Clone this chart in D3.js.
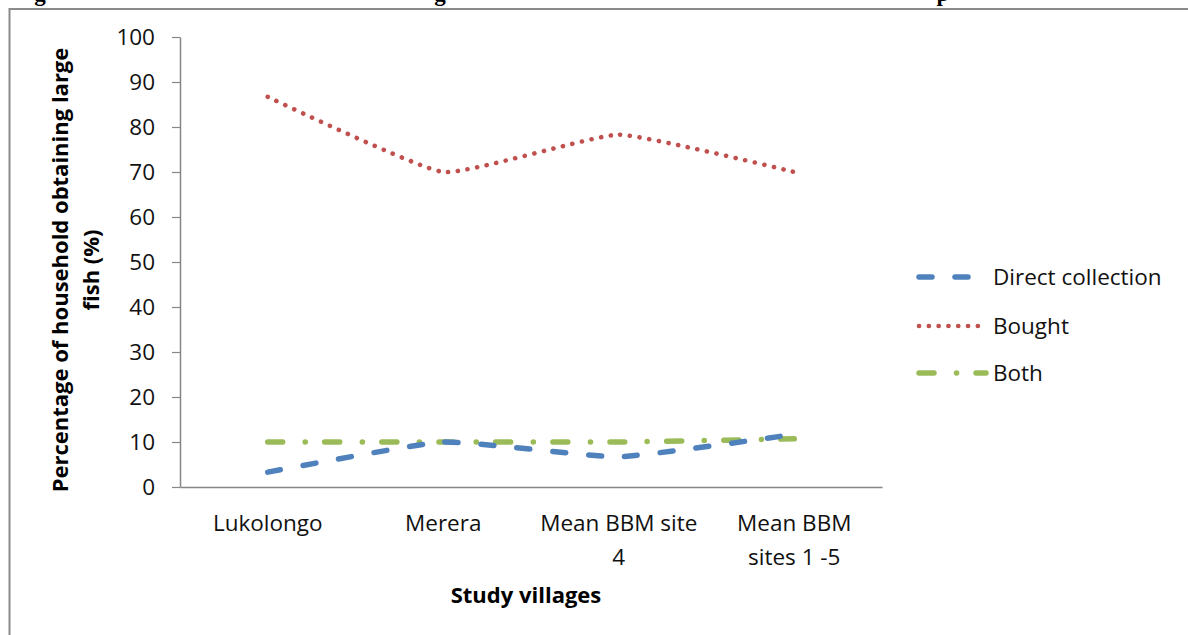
<!DOCTYPE html>
<html>
<head>
<meta charset="utf-8">
<script src="https://cdn.jsdelivr.net/npm/d3@7"></script>
<style>
  html, body { margin: 0; padding: 0; background: #fff; }
  svg { display: block; }
  text { font-family: "Open Sans", Lato, sans-serif; }
</style>
</head>
<body>
<svg id="chart" width="1188" height="635"></svg>
<script>
// Study sites on the category axis
const categories = ["Lukolongo", "Merera", "Mean BBM site 4", "Mean BBM sites 1 -5"];
// Category labels as they are broken over lines under the axis
const categoryLabelLines = [["Lukolongo"], ["Merera"], ["Mean BBM site", "4"], ["Mean BBM", "sites 1 -5"]];

// Percentage of households obtaining large fish, by source
const directCollection = [3.3, 10, 6.7, 11.7];
const bought = [86.7, 70, 78.3, 70];
const both = [10, 10, 10, 10.7];

const yTicks = [0, 10, 20, 30, 40, 50, 60, 70, 80, 90, 100];

const seriesNames = ["Direct collection", "Bought", "Both"];

const svg = d3.select("#chart");
const W = 1188, H = 635;

svg.append("rect").attr("width", W).attr("height", H).attr("fill", "#fff");

// Clipped caption glyphs above the chart frame
const capFont = "'Liberation Serif', 'DejaVu Serif', serif";
[["g", 40], ["g", 440], ["p", 943]].forEach(([ch, x]) => {
  svg.append("text")
    .attr("x", x).attr("y", 1)
    .attr("text-anchor", "middle")
    .style("font-family", capFont)
    .style("font-weight", "bold")
    .style("font-size", "23px")
    .attr("fill", "#000")
    .text(ch);
});

// Chart frame (runs off the right and bottom edges)
svg.append("path")
  .attr("d", "M9.5,1200 V9 H1300")
  .attr("fill", "none")
  .attr("stroke", "#8a8a8a")
  .attr("stroke-width", 2);

const plot = { left: 180, right: 882, top: 37, bottom: 487 };

const x = d3.scaleBand().domain(categories).range([plot.left, plot.right]).padding(0);
const cx = d => x(d) + x.bandwidth() / 2;
const y = d3.scaleLinear().domain([0, 100]).range([plot.bottom, plot.top]);

const labelFont = "22.5px";

// Y axis
const yAxis = svg.append("g")
  .attr("transform", `translate(${plot.left},0)`)
  .call(d3.axisLeft(y).tickValues(yTicks).tickSize(8).tickSizeOuter(0).tickPadding(17));
yAxis.select(".domain").attr("stroke", "#868686").attr("stroke-width", 1.5);
yAxis.selectAll(".tick line").attr("stroke", "#868686").attr("stroke-width", 1.2);
yAxis.selectAll(".tick text")
  .style("font-family", "'Open Sans', sans-serif")
  .style("font-size", labelFont)
  .attr("fill", "#111");

// X axis
const xAxis = svg.append("g")
  .attr("transform", `translate(0,${plot.bottom})`)
  .call(d3.axisBottom(x).tickSize(0).tickSizeOuter(0).tickPadding(0));
xAxis.select(".domain").attr("stroke", "#868686").attr("stroke-width", 1.5);
xAxis.selectAll(".tick text")
  .style("font-family", "'Open Sans', sans-serif")
  .style("font-size", labelFont)
  .attr("fill", "#111")
  .attr("dy", 0)
  .each(function (d, i) {
    const t = d3.select(this);
    t.text(null);
    categoryLabelLines[i].forEach((ln, j) => {
      t.append("tspan").attr("x", 0).attr("y", 44 + j * 34).text(ln);
    });
  });

// Axis titles
svg.append("text")
  .attr("x", (plot.left + plot.right) / 2 - 5)
  .attr("y", 603)
  .attr("text-anchor", "middle")
  .style("font-size", "22px")
  .style("font-weight", "bold")
  .attr("fill", "#000")
  .text("Study villages");

const yTitle = svg.append("text")
  .attr("transform", "translate(68,270) rotate(-90)")
  .attr("text-anchor", "middle")
  .style("font-size", "22px")
  .style("font-weight", "bold")
  .attr("fill", "#000");
yTitle.append("tspan").attr("x", 0).attr("y", 0).text("Percentage of household obtaining large");
yTitle.append("tspan").attr("x", 0).attr("y", 31).text("fish (%)");

// Series lines
const styles = [
  { color: "#4F81BD", dash: "13 23", width: 5.5 },
  { color: "#C0504D", dash: "0.1 9.7", width: 4.6 },
  { color: "#9BBB59", dash: "15 22.5 0.1 19.4", width: 5.5 }
];
const seriesData = [directCollection, bought, both];

const line = d3.line()
  .x((d, i) => cx(categories[i]))
  .y(d => y(d))
  .curve(d3.curveCardinal.tension(0.6));

// Both is drawn first so Direct collection sits on top where they cross
[2, 1, 0].forEach(k => {
  svg.append("path")
    .datum(seriesData[k])
    .attr("d", line)
    .attr("fill", "none")
    .attr("stroke", styles[k].color)
    .attr("stroke-width", styles[k].width)
    .attr("stroke-linecap", "round")
    .attr("stroke-dasharray", styles[k].dash);
});

// Legend
const legendY = [277, 326, 373];
seriesNames.forEach((name, k) => {
  const g = svg.append("g").attr("transform", `translate(0,${legendY[k]})`);
  g.append("line")
    .attr("x1", 919).attr("x2", 986)
    .attr("y1", 0).attr("y2", 0)
    .attr("stroke", styles[k].color)
    .attr("stroke-width", styles[k].width)
    .attr("stroke-linecap", "round")
    .attr("stroke-dasharray", styles[k].dash);
  g.append("text")
    .attr("x", 993).attr("y", 8)
    .style("font-size", labelFont)
    .attr("fill", "#111")
    .text(name);
});
</script>
</body>
</html>
